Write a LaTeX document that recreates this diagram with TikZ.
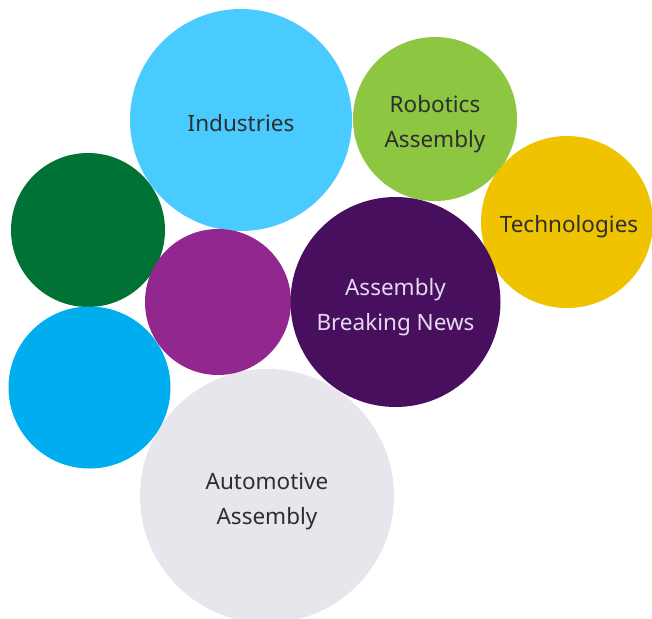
\documentclass[tikz,border=0pt]{standalone}
\usepackage{fontspec}
\setmainfont{Noto Sans}
\usepackage{xcolor}
\usepackage{tikz}
\usetikzlibrary{shapes.geometric}
\definecolor{skyblue}{HTML}{4ACBFF}
\definecolor{limegreen}{HTML}{8DC641}
\definecolor{gold}{HTML}{F0C300}
\definecolor{forest}{HTML}{007236}
\definecolor{plum}{HTML}{92278F}
\definecolor{aubergine}{HTML}{470F5E}
\definecolor{cyanblue}{HTML}{00AEEF}
\definecolor{mist}{HTML}{E7E6EC}
\definecolor{inkgray}{HTML}{2E2E2E}
\definecolor{lavender}{HTML}{E4DAF0}
\tikzstyle{bubble} = [circle,
					  inner sep=0pt,
					 ]
\tikzstyle{caption} = [align=center,
					   text centered,
					   yshift=-5pt,
					   font=\fontsize{22.5}{35}\selectfont,
					   text=inkgray,
					  ]

\begin{document}
\begin{tikzpicture}[x=1pt, y=-1pt]
\useasboundingbox (0,0) rectangle (652,618);

\node (auto) [bubble, fill=mist, minimum size=254pt, label={[caption]center:Automotive\\Assembly}] at (267,496) {};
\node (industries) [bubble, fill=skyblue, minimum size=222pt, label={[caption, yshift=2pt]center:Industries}] at (241,120) {};
\node (robotics) [bubble, fill=limegreen, minimum size=164pt, label={[caption]center:Robotics\\Assembly}] at (435,119) {};
\node (tech) [bubble, fill=gold, minimum size=172pt, label={[caption, xshift=2pt]center:Technologies}] at (567,222) {};
\node (green) [bubble, fill=forest, minimum size=154pt] at (88,230) {};
\node (magenta) [bubble, fill=plum, minimum size=146pt] at (218,302) {};
\node (news) [bubble, fill=aubergine, minimum size=210pt, label={[caption, text=lavender]center:Assembly\\Breaking News}] at (395.5,302) {};
\node (blue) [bubble, fill=cyanblue, minimum size=162pt] at (89.5,387.5) {};

\end{tikzpicture}
\end{document}
